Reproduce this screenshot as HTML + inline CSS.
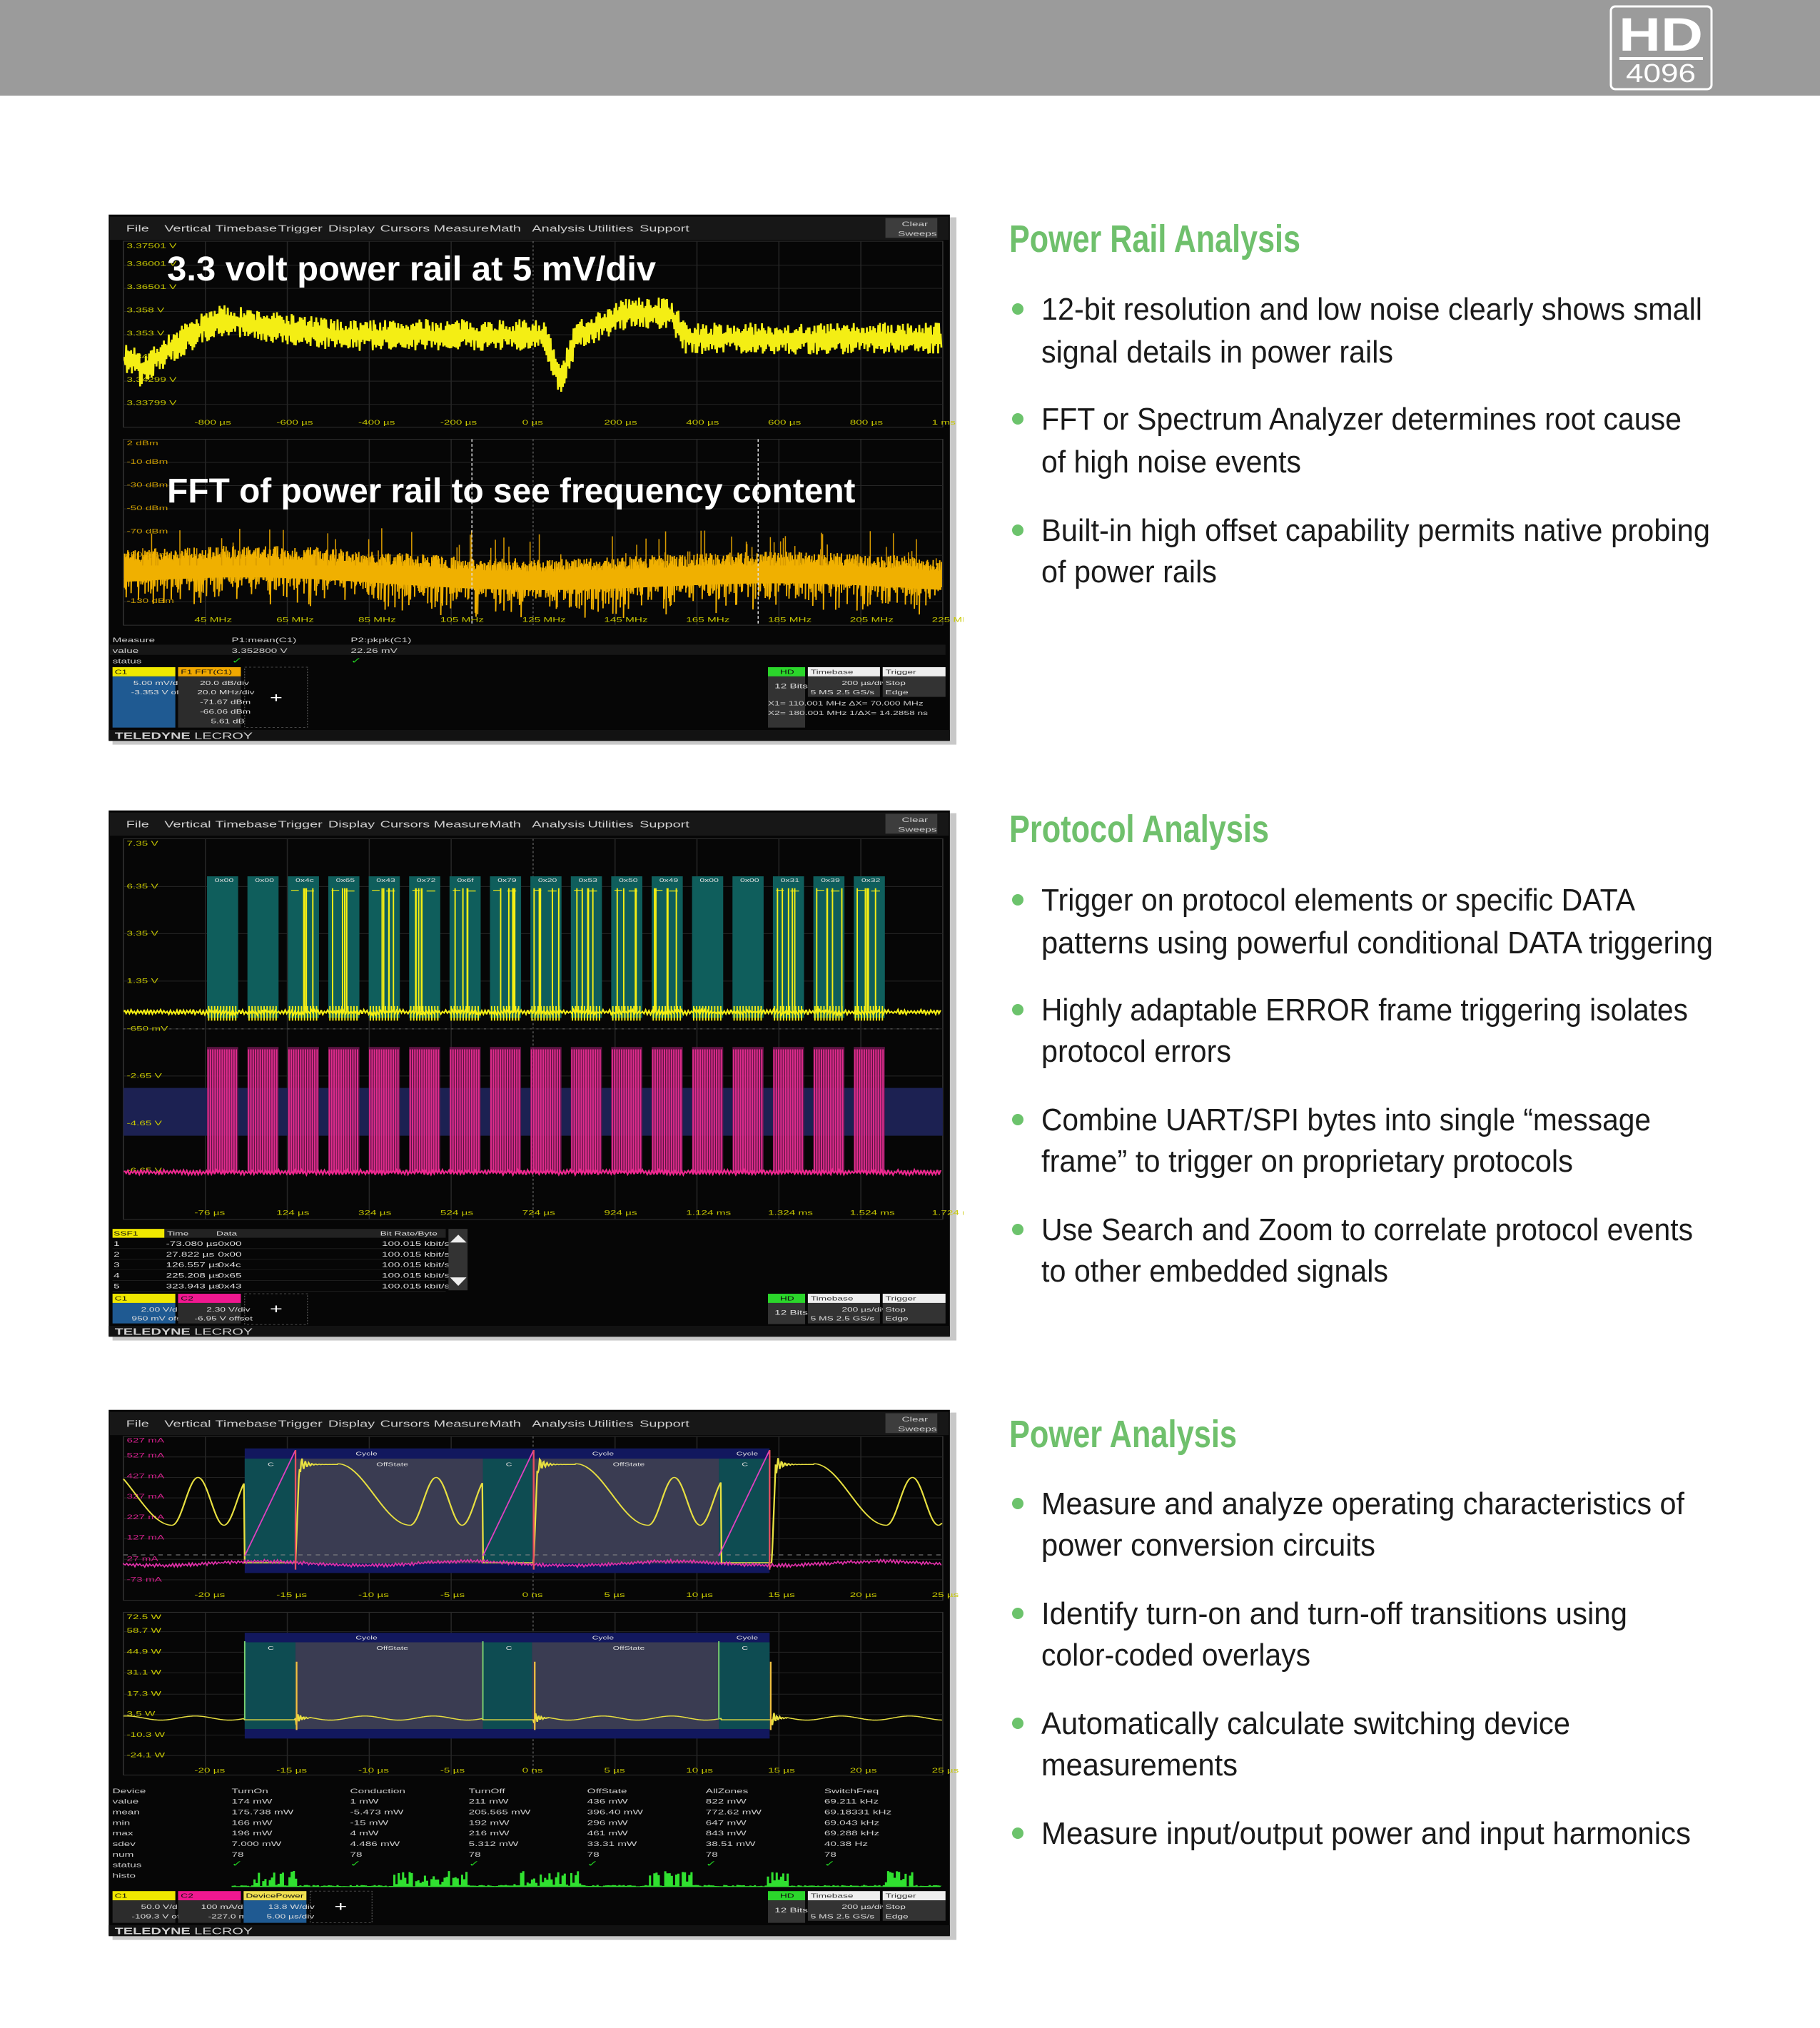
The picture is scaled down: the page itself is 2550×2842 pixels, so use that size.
<!DOCTYPE html>
<html><head><meta charset="utf-8">
<style>
html,body{margin:0;padding:0;background:#fff;}
body{width:2550px;height:2842px;position:relative;overflow:hidden;font-family:"Liberation Sans",sans-serif;}
#hdr{position:absolute;left:0;top:0;width:2550px;height:134px;background:#9b9b9b;}
.ss{position:absolute;left:150px;width:1200px;height:750px;}
#txt{position:absolute;left:0;top:0;}
</style></head><body>
<div id="hdr"></div>
<svg style="position:absolute;left:2255px;top:7px" width="145" height="120" viewBox="0 0 145 120">
<rect x="2" y="2" width="141" height="116" rx="6" fill="none" stroke="#fff" stroke-width="3"/>
<text x="72" y="64" text-anchor="middle" font-family="Liberation Sans" font-weight="bold" font-size="66" fill="#fff" textLength="118" lengthAdjust="spacingAndGlyphs">HD</text>
<rect x="14" y="73" width="117" height="4" fill="#fff"/>
<text x="72" y="108" text-anchor="middle" font-family="Liberation Sans" font-size="36" fill="#fff" textLength="98" lengthAdjust="spacingAndGlyphs">4096</text>
</svg>
<svg class="ss" id="s1" style="top:295px" viewBox="0 0 1568 1568" preserveAspectRatio="none"></svg>
<svg class="ss" id="s2" style="top:1130px" viewBox="0 0 1568 1568" preserveAspectRatio="none"></svg>
<svg class="ss" id="s3" style="top:1970px" viewBox="0 0 1568 1568" preserveAspectRatio="none"></svg>

<svg id="txt" width="2550" height="2842" style="pointer-events:none">
<g font-family="Liberation Sans Narrow, Liberation Sans, sans-serif" font-weight="bold" font-size="54" fill="#6fc06c">
<text x="1414" y="353" textLength="408" lengthAdjust="spacingAndGlyphs">Power Rail Analysis</text>
<text x="1414" y="1180" textLength="364" lengthAdjust="spacingAndGlyphs">Protocol Analysis</text>
<text x="1414" y="2028" textLength="319" lengthAdjust="spacingAndGlyphs">Power Analysis</text>
</g>
<g fill="#6cc36c">
<circle cx="1426" cy="433" r="8"/><circle cx="1426" cy="587" r="8"/><circle cx="1426" cy="743" r="8"/>
<circle cx="1426" cy="1261" r="8"/><circle cx="1426" cy="1415" r="8"/><circle cx="1426" cy="1569" r="8"/><circle cx="1426" cy="1723" r="8"/>
<circle cx="1426" cy="2107" r="8"/><circle cx="1426" cy="2261" r="8"/><circle cx="1426" cy="2415" r="8"/><circle cx="1426" cy="2569" r="8"/>
</g>
<g font-family="Liberation Sans, sans-serif" font-size="44" fill="#1a1a1a">
<text x="1459" y="448" textLength="926" lengthAdjust="spacingAndGlyphs">12-bit resolution and low noise clearly shows small</text>
<text x="1459" y="508" textLength="493" lengthAdjust="spacingAndGlyphs">signal details in power rails</text>
<text x="1459" y="602" textLength="897" lengthAdjust="spacingAndGlyphs">FFT or Spectrum Analyzer determines root cause</text>
<text x="1459" y="662" textLength="364" lengthAdjust="spacingAndGlyphs">of high noise events</text>
<text x="1459" y="758" textLength="937" lengthAdjust="spacingAndGlyphs">Built-in high offset capability permits native probing</text>
<text x="1459" y="816" textLength="246" lengthAdjust="spacingAndGlyphs">of power rails</text>

<text x="1459" y="1276" textLength="832" lengthAdjust="spacingAndGlyphs">Trigger on protocol elements or specific DATA</text>
<text x="1459" y="1336" textLength="941" lengthAdjust="spacingAndGlyphs">patterns using powerful conditional DATA triggering</text>
<text x="1459" y="1430" textLength="906" lengthAdjust="spacingAndGlyphs">Highly adaptable ERROR frame triggering isolates</text>
<text x="1459" y="1488" textLength="266" lengthAdjust="spacingAndGlyphs">protocol errors</text>
<text x="1459" y="1584" textLength="854" lengthAdjust="spacingAndGlyphs">Combine UART/SPI bytes into single “message</text>
<text x="1459" y="1642" textLength="745" lengthAdjust="spacingAndGlyphs">frame” to trigger on proprietary protocols</text>
<text x="1459" y="1738" textLength="913" lengthAdjust="spacingAndGlyphs">Use Search and Zoom to correlate protocol events</text>
<text x="1459" y="1796" textLength="486" lengthAdjust="spacingAndGlyphs">to other embedded signals</text>

<text x="1459" y="2122" textLength="901" lengthAdjust="spacingAndGlyphs">Measure and analyze operating characteristics of</text>
<text x="1459" y="2180" textLength="468" lengthAdjust="spacingAndGlyphs">power conversion circuits</text>
<text x="1459" y="2276" textLength="821" lengthAdjust="spacingAndGlyphs">Identify turn-on and turn-off transitions using</text>
<text x="1459" y="2334" textLength="377" lengthAdjust="spacingAndGlyphs">color-coded overlays</text>
<text x="1459" y="2430" textLength="741" lengthAdjust="spacingAndGlyphs">Automatically calculate switching device</text>
<text x="1459" y="2488" textLength="275" lengthAdjust="spacingAndGlyphs">measurements</text>
<text x="1459" y="2584" textLength="910" lengthAdjust="spacingAndGlyphs">Measure input/output power and input harmonics</text>
</g>
</svg>

<script>
function RNG(seed){return function(){seed|=0;seed=seed+0x6D2B79F5|0;var t=Math.imul(seed^seed>>>15,1|seed);t=t+Math.imul(t^t>>>7,61|t)^t;return((t^t>>>14)>>>0)/4294967296;}}
function T(x,y,s,c,txt,extra){return '<text x="'+x+'" y="'+y+'" font-size="'+s+'" fill="'+c+'" font-family="Liberation Sans Narrow, Liberation Sans, sans-serif" '+(extra||'')+'>'+txt+'</text>';}
function frame(){
  var s='<rect x="0" y="0" width="1568" height="1568" fill="#fff"/>';
  s+='<rect x="10" y="20" width="1545" height="1545" fill="#c8c8c8"/>';
  s+='<rect x="3" y="12" width="1540" height="1540" fill="#060606"/>';
  s+='<rect x="5" y="18" width="1536" height="68" fill="#171717"/>';
  var m=[['File',35],['Vertical',105],['Timebase',198],['Trigger',313],['Display',405],['Cursors',500],['Measure',598],['Math',700],['Analysis',778],['Utilities',880],['Support',975]];
  m.forEach(function(a){s+=T(a[1],62,26,'#cfcfcf',a[0]);});
  s+='<rect x="1425" y="22" width="95" height="58" fill="#3d3d3d"/>'+T(1455,46,20,'#ccc','Clear')+T(1448,74,20,'#ccc','Sweeps');
  s+='<rect x="3" y="1522" width="1540" height="32" fill="#121212"/>'+T(14,1548,26,'#d0d0d0','<tspan font-weight="bold">TELEDYNE</tspan> LECROY');
  return s;
}
function grid(x0,y0,x1,y1,ys){
  var s='<rect x="'+x0+'" y="'+y0+'" width="'+(x1-x0)+'" height="'+(y1-y0)+'" fill="none" stroke="#333" stroke-width="2"/>';
  for(var x=x0+150;x<x1;x+=150)s+='<line x1="'+x+'" y1="'+y0+'" x2="'+x+'" y2="'+y1+'" stroke="'+(x==780?'#555':'#262626')+'" stroke-width="2" '+(x==780?'stroke-dasharray="6 6"':'')+'/>';
  ys.forEach(function(y){s+='<line x1="'+x0+'" y1="'+y+'" x2="'+x1+'" y2="'+y+'" stroke="#262626" stroke-width="2"/>';});
  return s;
}
function xlabels(y,arr){var s='';arr.forEach(function(t,i){s+=T(160+i*150,y,20,'#c8c800',t);});return s;}
function ylabels(arr,c){var s='';arr.forEach(function(a){s+=T(36,a[1],20,c||'#c8c800',a[0]);});return s;}
function rbox(kind){
  var s='<rect x="1210" y="1338" width="68" height="27" fill="#2bd62b"/>'+T(1232,1358,18,'#111','HD');
  s+='<rect x="1210" y="1365" width="68" height="150" fill="#333"/>'+T(1222,1400,20,'#ddd','12 Bits');
  s+='<rect x="1283" y="1338" width="132" height="27" fill="#eee"/>'+T(1288,1358,18,'#333','Timebase');
  s+='<rect x="1283" y="1365" width="132" height="60" fill="#333"/>'+T(1345,1390,18,'#ddd','200 µs/div')+T(1288,1418,18,'#ddd','5 MS   2.5 GS/s');
  s+='<rect x="1420" y="1338" width="115" height="27" fill="#eee"/>'+T(1425,1358,18,'#333','Trigger');
  s+='<rect x="1420" y="1365" width="115" height="60" fill="#333"/>'+T(1425,1390,18,'#ddd','Stop')+T(1425,1418,18,'#ddd','Edge');
  return s;
}
function zig(pts,rng,amp,col,w){
  var d='M'+pts[0][0]+','+pts[0][1];
  for(var i=0;i<pts.length;i++){var a=amp*(0.3+rng());d+='L'+pts[i][0]+','+(pts[i][1]+(i%2?a:-a)).toFixed(1);}
  return '<path d="'+d+'" fill="none" stroke="'+col+'" stroke-width="'+w+'"/>';
}
/* ---------- Screenshot 1 ---------- */
(function(){
  var r=RNG(7),s=frame();
  s+=grid(30,90,1530,635,[160,228,296,364,432,500,568]);
  s+=grid(30,670,1530,1215,[738,806,874,942,1010,1078,1146]);
  s+=ylabels([['3.37501 V',110],['3.36001 V',162],['3.36501 V',230],['3.358 V',298],['3.353 V',366],['3.348 V',434],['3.34299 V',502],['3.33799 V',570]]);
  s+=ylabels([['2 dBm',688],['-10 dBm',742],['-30 dBm',810],['-50 dBm',878],['-70 dBm',946],['-90 dBm',1014],['-110 dBm',1082],['-130 dBm',1150]],'#c89a00');
  s+=xlabels(627,['-800 µs','-600 µs','-400 µs','-200 µs','0 µs','200 µs','400 µs','600 µs','800 µs','1 ms']);
  s+=xlabels(1205,['45 MHz','65 MHz','85 MHz','105 MHz','125 MHz','145 MHz','165 MHz','185 MHz','205 MHz','225 MHz']);
  function f(x){
    if(x<60)return 440; if(x<110)return 470-(x-60)*1.2; if(x<200)return 410-(x-110)*1.0;
    if(x<420)return 320+(x-200)*0.2; if(x<800)return 365; if(x<830)return 365+(x-800)*4.5;
    if(x<860)return 500-(x-830)*4.5; if(x<950)return 365-(x-860)*0.7; if(x<1030)return 300;
    if(x<1060)return 300+(x-1030)*2.5; return 375;}
  var p=[];for(var x=32;x<1528;x+=1.5)p.push([x,f(x)]);
  s+=zig(p,r,36,'#f4ee14',3.5);
  var q=[];for(var x=32;x<1528;x+=1.5){var c=1055-15*Math.sin(x/160)-10*Math.sin(x/420+1);q.push([x,c+20]);}
  var band='M32,'+(q[0][1]-30);q.forEach(function(pt){band+='L'+pt[0]+','+(pt[1]-30);});for(var i=q.length-1;i>=0;i--)band+='L'+q[i][0]+','+(q[i][1]+25);band+='Z';
  s+='<path d="'+band+'" fill="#f0b000"/>';
  var d='';q.forEach(function(pt,i){var up=pt[1]-28-r()*40,dn=pt[1]+10+r()*r()*110;d+=(i?'L':'M')+pt[0]+','+up.toFixed(1)+'L'+pt[0]+','+dn.toFixed(1);});
  s+='<path d="'+d+'" fill="none" stroke="#f0b000" stroke-width="2.4"/>';
  for(var i=0;i<70;i++){var x=40+r()*1480;s+='<line x1="'+x+'" y1="'+(1040)+'" x2="'+x+'" y2="'+(930+r()*90)+'" stroke="#d89a00" stroke-width="2"/>';}
  s+='<line x1="668" y1="670" x2="668" y2="1215" stroke="#ddd" stroke-width="2" stroke-dasharray="8 6"/><line x1="1192" y1="670" x2="1192" y2="1215" stroke="#ddd" stroke-width="2" stroke-dasharray="8 6"/>';
  s+=T(110,205,100,'#fff','3.3 volt power rail at 5 mV/div','font-weight="bold" textLength="895" lengthAdjust="spacingAndGlyphs"');
  s+=T(110,855,100,'#fff','FFT of power rail to see frequency content','font-weight="bold" textLength="1260" lengthAdjust="spacingAndGlyphs"');
  s+='<rect x="5" y="1272" width="1530" height="30" fill="#161616"/>';
  s+=T(10,1265,20,'#ccc','Measure')+T(10,1296,20,'#ccc','value')+T(10,1327,20,'#ccc','status');
  s+=T(228,1265,20,'#ccc','P1:mean(C1)')+T(228,1296,20,'#ccc','3.352800 V')+T(446,1265,20,'#ccc','P2:pkpk(C1)')+T(446,1296,20,'#ccc','22.26 mV');
  s+=T(228,1327,24,'#2c2','✓')+T(446,1327,24,'#2c2','✓');
  s+='<rect x="10" y="1338" width="115" height="27" fill="#f0e800"/>'+T(14,1358,18,'#111','C1');
  s+='<rect x="10" y="1365" width="115" height="150" fill="#1f5a92"/>'+T(48,1390,18,'#ddd','5.00 mV/div')+T(44,1418,18,'#ddd','-3.353 V ofst');
  s+='<rect x="130" y="1338" width="115" height="27" fill="#f0a800"/>'+T(135,1358,18,'#111','F1   FFT(C1)');
  s+='<rect x="130" y="1365" width="115" height="150" fill="#2c2c2c"/>'+T(170,1390,18,'#ddd','20.0 dB/div')+T(165,1418,18,'#ddd','20.0 MHz/div')+T(170,1446,18,'#ddd','-71.67 dBm')+T(170,1474,18,'#ddd','-66.06 dBm')+T(190,1502,18,'#ddd','5.61 dB');
  s+='<rect x="252" y="1338" width="115" height="177" fill="none" stroke="#888" stroke-dasharray="4 4"/>'+T(298,1440,40,'#fff','+');
  s+=rbox()+T(1210,1450,18,'#ccc','X1= 110.001 MHz ΔX= 70.000 MHz')+T(1210,1478,18,'#ccc','X2= 180.001 MHz 1/ΔX= 14.2858 ns');
  document.getElementById('s1').innerHTML=s;
})();
/* ---------- Screenshot 2 ---------- */
(function(){
  var r=RNG(11),s=frame();
  s+=grid(30,95,1530,1210,[235,373,512,652,790,930,1068]);
  s+='<rect x="30" y="825" width="1500" height="140" fill="#1c2152"/>';
  s+=ylabels([['7.35 V',115],['6.35 V',240],['3.35 V',378],['1.35 V',517],['-650 mV',657],['-2.65 V',795],['-4.65 V',935],['-6.65 V',1073]]);
  s+=xlabels(1197,['-76 µs','124 µs','324 µs','524 µs','724 µs','924 µs','1.124 ms','1.324 ms','1.524 ms','1.724 ms']);
  var labs=['0x00','0x00','0x4c','0x65','0x43','0x72','0x6f','0x79','0x20','0x53','0x50','0x49','0x00','0x00','0x31','0x39','0x32'];
  var yel='',mag='';
  for(var k=0;k<17;k++){
    var x0=183+k*74,w=57;
    s+='<rect x="'+x0+'" y="205" width="'+w+'" height="415" fill="#0f5e5c"/>';
    s+=T(x0+14,222,16,'#ddd',labs[k]);
    s+='<rect x="'+x0+'" y="705" width="'+w+'" height="367" fill="#7a1a5a" opacity="0.75"/>';
    if(k>=2&&k!=12&&k!=13){for(var j=0;j<5;j++){var xx=x0+4+r()*(w-8);yel+='M'+xx.toFixed(1)+',603L'+xx.toFixed(1)+',240';}
      yel+='M'+(x0+6)+',246L'+(x0+20)+',246M'+(x0+32)+',248L'+(x0+48)+',248';}
    for(var j=0;j<13;j++){var xx=x0+2+j*4.3;mag+='M'+xx.toFixed(1)+',1072L'+xx.toFixed(1)+',712';}
    for(var j=0;j<10;j++){var xx=x0+3+j*5.5;yel+='M'+xx+',585L'+xx+',628';}
  }
  s+='<path d="'+mag+'" stroke="#e02c8c" stroke-width="2.6" fill="none"/>';
  var p=[];for(var x=32;x<1528;x+=3)p.push([x,603]);s+=zig(p,r,6,'#f4ee14',3);
  s+='<path d="'+yel+'" stroke="#f4ee14" stroke-width="2.5" fill="none"/>';
  var q=[];for(var x=32;x<1528;x+=3)q.push([x,1072]);s+=zig(q,r,6,'#f02890',3);
  s+='<line x1="30" y1="652" x2="1530" y2="652" stroke="#666" stroke-width="2" stroke-dasharray="4 8"/>';
  s+='<rect x="10" y="1238" width="95" height="26" fill="#f0e800"/>'+T(12,1258,18,'#111','SSF1');
  s+='<rect x="105" y="1238" width="515" height="26" fill="#222"/>'+T(110,1258,18,'#ddd','Time')+T(200,1258,18,'#ddd','Data')+T(500,1258,18,'#ddd','Bit Rate/Byte');
  var rows=[['1','-73.080 µs','0x00'],['2','27.822 µs','0x00'],['3','126.557 µs','0x4c'],['4','225.208 µs','0x65'],['5','323.943 µs','0x43']];
  rows.forEach(function(a,i){var y=1288+i*31;s+='<line x1="10" y1="'+(y+8)+'" x2="620" y2="'+(y+8)+'" stroke="#333"/>'+T(12,y,20,'#ddd',a[0])+T(108,y,20,'#ddd',a[1])+T(203,y,20,'#ddd',a[2])+T(503,y,20,'#ddd','100.015 kbit/s');});
  s+='<rect x="625" y="1238" width="35" height="180" fill="#333"/><path d="M628,1278L658,1278L643,1255Z M628,1380L658,1380L643,1405Z" fill="#eee"/>';
  s+='<rect x="10" y="1428" width="115" height="27" fill="#f0e800"/>'+T(14,1448,18,'#111','C1');
  s+='<rect x="10" y="1455" width="115" height="60" fill="#1f5a92"/>'+T(62,1480,18,'#ddd','2.00 V/div')+T(45,1506,18,'#ddd','950 mV ofst');
  s+='<rect x="130" y="1428" width="115" height="27" fill="#f01890"/>'+T(135,1448,18,'#111','C2');
  s+='<rect x="130" y="1455" width="115" height="60" fill="#2c2c2c"/>'+T(182,1480,18,'#ddd','2.30 V/div')+T(160,1506,18,'#ddd','-6.95 V offset');
  s+='<rect x="252" y="1428" width="115" height="90" fill="none" stroke="#888" stroke-dasharray="4 4"/>'+T(298,1485,40,'#fff','+');
  var rb=rbox().replace(/1338/g,'1428').replace(/1358/g,'1448').replace(/1365/g,'1455').replace(/1390/g,'1480').replace(/1400/g,'1490').replace(/1418/g,'1506').replace(/height="150"/,'height="62"');
  s+=rb;
  document.getElementById('s2').innerHTML=s;
})();
/* ---------- Screenshot 3 ---------- */
(function(){
  var r=RNG(23),s=frame();
  s+=grid(30,90,1530,570,[150,210,270,330,390,450,510]);
  s+=grid(30,605,1530,1082,[662,722,782,845,905,965,1025]);
  function ov(y0,y1,h){
    var t='<rect x="252" y="'+y0+'" width="961" height="'+(y1-y0)+'" fill="#12185e"/>';
    [[252,93],[688,90],[1120,93]].forEach(function(a){t+='<rect x="'+a[0]+'" y="'+(y0+h)+'" width="'+a[1]+'" height="'+(y1-y0-h-28)+'" fill="#0e4c52"/>'+T(a[0]+42,y0+h+22,16,'#ddd','C');});
    [[345,343],[778,342]].forEach(function(a){t+='<rect x="'+a[0]+'" y="'+(y0+h)+'" width="'+a[1]+'" height="'+(y1-y0-h-28)+'" fill="#3a3c52"/>'+T(a[0]+148,y0+h+22,16,'#ddd','OffState');});
    [455,888,1152].forEach(function(x){t+=T(x,y0+20,16,'#ddd','Cycle');});
    return t;}
  s+=ov(125,490,30);s+=ov(665,975,28);
  s+=ylabels([['627 mA',108],['527 mA',152],['427 mA',212],['327 mA',272],['227 mA',332],['127 mA',392],['27 mA',455],['-73 mA',515]],'#d0208a');
  s+=ylabels([['72.5 W',625],['58.7 W',665],['44.9 W',727],['31.1 W',787],['17.3 W',850],['3.5 W',908],['-10.3 W',970],['-24.1 W',1030]]);
  s+=xlabels(560,['-20 µs','-15 µs','-10 µs','-5 µs','0 ns','5 µs','10 µs','15 µs','20 µs','25 µs']);
  s+=xlabels(1075,['-20 µs','-15 µs','-10 µs','-5 µs','0 ns','5 µs','10 µs','15 µs','20 µs','25 µs']);
  s+='<line x1="30" y1="437" x2="1530" y2="437" stroke="#8a8a8a" stroke-width="2" stroke-dasharray="8 8"/>';
  function yU(x){var o=((x-252)%436+436)%436;
    if(o<93)return 460; if(o<100)return 460-(o-93)*41;
    if(o<170)return 172+30*Math.exp(-(o-100)/10)*Math.sin(o-100);
    if(o<303)return 170+90*(1-Math.cos(Math.PI*(o-170)/133));
    return 280+70*Math.cos(2*Math.PI*(o-303)/95);}
  var d='';for(var x=30;x<1530;x+=1.5){d+=(x==30?'M':'L')+x+','+yU(x).toFixed(1);}
  s+='<path d="'+d+'" fill="none" stroke="#e8e040" stroke-width="3"/>';
  var m=[];for(var x=30;x<1530;x+=3)m.push([x,462+6*Math.sin(x/60)]);s+=zig(m,r,4,'#e030a8',2.5);
  [252,688,1120].forEach(function(p){s+='<line x1="'+p+'" y1="440" x2="'+(p+93)+'" y2="130" stroke="#e040c0" stroke-width="2.5"/><line x1="'+(p+93)+'" y1="130" x2="'+(p+93)+'" y2="480" stroke="#e85060" stroke-width="3"/>';});
  function yL(x){var o=((x-252)%436+436)%436;
    if(o<93)return 920; if(o<120&&o>=93)return 915+25*Math.exp(-(o-93)/8)*Math.sin((o-93)*1.2);
    return 915+6*Math.sin(o/20);}
  d='';for(var x=30;x<1530;x+=1.5){d+=(x==30?'M':'L')+x+','+yL(x).toFixed(1);}
  s+='<path d="'+d+'" fill="none" stroke="#e8e040" stroke-width="3"/>';
  [252,688,1120].forEach(function(p){s+='<line x1="'+p+'" y1="690" x2="'+p+'" y2="918" stroke="#7ad070" stroke-width="2.5"/><line x1="'+(p+95)+'" y1="750" x2="'+(p+95)+'" y2="950" stroke="#f0c040" stroke-width="3"/>';});
  var cols=[['Device','value','mean','min','max','sdev','num','status','histo'],['TurnOn','174 mW','175.738 mW','166 mW','196 mW','7.000 mW','78'],['Conduction','1 mW','-5.473 mW','-15 mW','4 mW','4.486 mW','78'],['TurnOff','211 mW','205.565 mW','192 mW','216 mW','5.312 mW','78'],['OffState','436 mW','396.40 mW','296 mW','461 mW','33.31 mW','78'],['AllZones','822 mW','772.62 mW','647 mW','843 mW','38.51 mW','78'],['SwitchFreq','69.211 kHz','69.18331 kHz','69.043 kHz','69.288 kHz','40.38 Hz','78']];
  cols.forEach(function(c,i){var x=i?228+(i-1)*217:10;c.forEach(function(t,j){s+=T(x,1135+j*31,20,'#ccc',t);});if(i)s+=T(x,1350,24,'#2c2','✓');});
  var h='M228,1408';for(var x=228;x<1525;x+=4){var v=r();var big=(x>265&&x<345)||(x>520&&x<660)||(x>740&&x<865)||(x>990&&x<1070)||(x>1205&&x<1245)||(x>1420&&x<1475);h+='L'+x+','+(1408-(big?v*45:v*4)).toFixed(1)+'L'+(x+4)+','+(1408-(big?v*45:v*4)).toFixed(1);}
  h+='L1525,1410L228,1410Z';s+='<path d="'+h+'" fill="#30e030"/>';
  s+='<rect x="10" y="1422" width="115" height="27" fill="#f0e800"/>'+T(14,1442,18,'#111','C1');
  s+='<rect x="10" y="1449" width="115" height="66" fill="#2c2c2c"/>'+T(62,1474,18,'#ddd','50.0 V/div')+T(45,1502,18,'#ddd','-109.3 V ofst');
  s+='<rect x="130" y="1422" width="115" height="27" fill="#f01890"/>'+T(135,1442,18,'#111','C2');
  s+='<rect x="130" y="1449" width="115" height="66" fill="#2c2c2c"/>'+T(172,1474,18,'#ddd','100 mA/div')+T(185,1502,18,'#ddd','-227.0 mA');
  s+='<rect x="250" y="1422" width="115" height="27" fill="#f0e050"/>'+T(254,1442,18,'#111','DevicePower');
  s+='<rect x="250" y="1449" width="115" height="66" fill="#1f5a92"/>'+T(295,1474,18,'#ddd','13.8 W/div')+T(292,1502,18,'#ddd','5.00 µs/div');
  s+='<rect x="372" y="1422" width="113" height="93" fill="none" stroke="#888" stroke-dasharray="4 4"/>'+T(416,1480,40,'#fff','+');
  var rb=rbox().replace(/1338/g,'1422').replace(/1358/g,'1442').replace(/1365/g,'1449').replace(/1390/g,'1474').replace(/1400/g,'1484').replace(/1418/g,'1502').replace(/height="150"/,'height="66"');
  s+=rb;
  document.getElementById('s3').innerHTML=s;
})();
</script>
</body></html>
